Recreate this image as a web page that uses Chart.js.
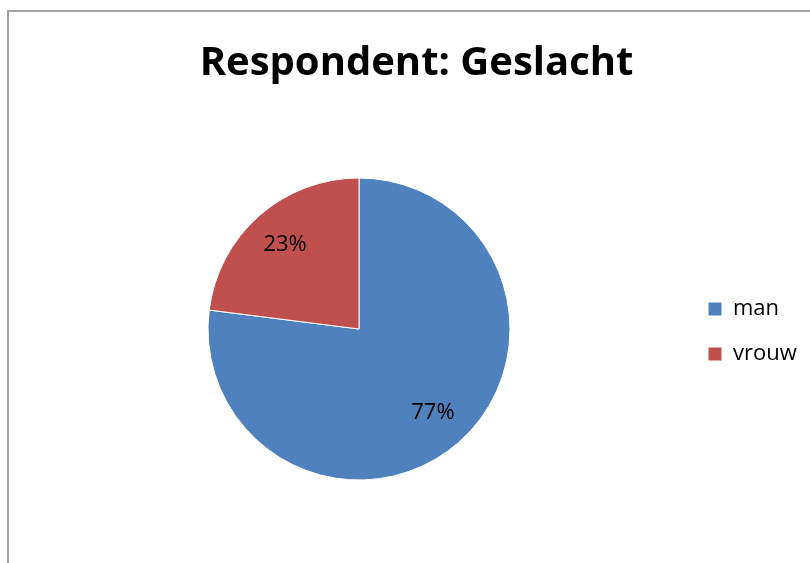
<!DOCTYPE html>
<html lang="nl">
<head>
  <meta charset="UTF-8">
  <title>Respondent: Geslacht</title>
  <script src="https://cdn.jsdelivr.net/npm/chart.js@4.4.0/dist/chart.umd.min.js"></script>
  <style>
    body { margin: 0; background: #fff; }
    .frame { position: absolute; left: 7px; top: 10px; width: 900px; height: 700px;
             border-left: 2px solid #a3a3a3; border-top: 2px solid #a3a3a3; }
    .wrap { position: absolute; left: 0; top: 0; width: 810px; height: 563px; }
  </style>
</head>
<body>
  <div class="frame"></div>
  <div class="wrap"><canvas id="myChart"></canvas></div>

  <script>
    const labels = ['man', 'vrouw']
    const values = [77, 23]
    const colors = ['#4F81BD', '#C0504D']

    // percentages inside the slices
    const pctLabels = {
      id: 'pctLabels',
      afterDatasetsDraw(chart) {
        const ctx = chart.ctx
        const meta = chart.getDatasetMeta(0)
        const total = values.reduce((a, b) => a + b, 0)
        ctx.save()
        ctx.font = '22px "Open Sans"'
        ctx.fillStyle = '#000'
        ctx.textAlign = 'center'
        ctx.textBaseline = 'middle'
        meta.data.forEach((arc, i) => {
          const p = arc.getProps(['x', 'y', 'startAngle', 'endAngle', 'outerRadius'], true)
          const mid = (p.startAngle + p.endAngle) / 2
          const r = p.outerRadius * 0.74
          const txt = Math.round(values[i] / total * 100) + '%'
          ctx.fillText(txt, p.x + Math.cos(mid) * r, p.y + Math.sin(mid) * r)
        })
        ctx.restore()
      }
    }

    const ctx = document.getElementById('myChart').getContext('2d')
    const myChart = new Chart(ctx, {
      type: 'pie',
      data: {
        labels: labels,
        datasets: [{
          data: values,
          backgroundColor: colors,
          borderColor: '#ffffff',
          borderWidth: 1,
          radius: 151
        }]
      },
      options: {
        responsive: true,
        maintainAspectRatio: false,
        animation: false,
        layout: { padding: { left: 33, right: 10, top: 0, bottom: 25 } },
        plugins: {
          title: {
            display: true,
            text: 'Respondent: Geslacht',
            color: '#000',
            font: { family: 'Open Sans', size: 40, weight: 'bold', lineHeight: 1.2 },
            padding: { top: 40, bottom: 32 }
          },
          legend: {
            position: 'right',
            maxWidth: 115,
            // empty title only pushes the items down to the pie's middle
            title: { display: true, text: ' ', font: { size: 10, lineHeight: 1.2 }, padding: { top: 113, bottom: 0 } },
            labels: {
              boxWidth: 14,
              boxHeight: 14,
              padding: 23,
              color: '#000',
              font: { family: 'Open Sans', size: 22 }
            }
          },
          tooltip: { enabled: false }
        }
      },
      plugins: [pctLabels]
    })
  </script>
</body>
</html>
